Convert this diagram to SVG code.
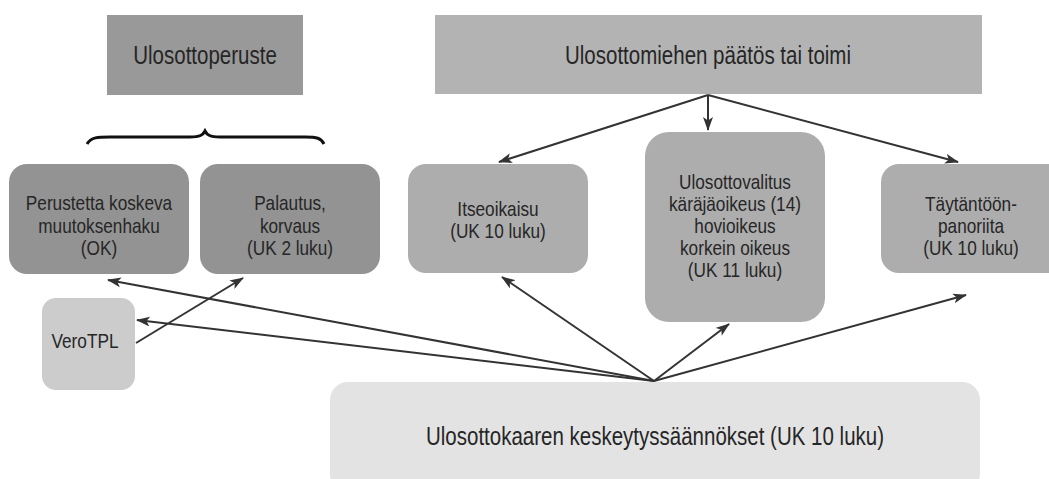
<svg xmlns="http://www.w3.org/2000/svg" width="1049" height="479" viewBox="0 0 1049 479">
  <defs>
    <style>
      text { font-family: "Liberation Sans", Arial, sans-serif; fill: #262626; text-anchor: middle; }
      .big { font-size: 25px; }
      .med { font-size: 21px; }
      .conn { stroke: #333; stroke-width: 2; fill: none; marker-end: url(#ah); }
    </style>
    <marker id="ah" viewBox="0 0 14 10" markerWidth="14" markerHeight="10" refX="13" refY="5" orient="auto" markerUnits="userSpaceOnUse">
      <path d="M0,0 L14,5 L0,10 L3.5,5 Z" fill="#333"/>
    </marker>
  </defs>
  <rect width="1049" height="479" fill="#ffffff"/>

  <g id="ulosottoperuste">
    <rect x="107" y="15" width="196" height="80" fill="#999999"/>
    <text class="big" transform="translate(205,64) scale(0.82,1)">Ulosottoperuste</text>
  </g>
  <g id="ulosottomiehen">
    <rect x="435" y="15" width="547" height="79" fill="#b3b3b3"/>
    <text class="big" transform="translate(708,64) scale(0.82,1)">Ulosottomiehen päätös tai toimi</text>
  </g>
  <g id="brace">
    <path d="M87,144 C91,137 98,137 110,137 L190,137 C200,137 203,135 205,131 C207,135 210,137 220,137 L305,137 C317,137 321,138 324,144" fill="none" stroke="#111" stroke-width="3"/>
  </g>
  <g id="perustetta">
    <rect x="9" y="164" width="180" height="110" rx="18" fill="#939393"/>
    <text class="med" transform="translate(99,210) scale(0.82,1)">Perustetta koskeva</text>
    <text class="med" transform="translate(99,233) scale(0.82,1)">muutoksenhaku</text>
    <text class="med" transform="translate(99,255) scale(0.82,1)">(OK)</text>
  </g>
  <g id="palautus">
    <rect x="200" y="164" width="180" height="110" rx="18" fill="#939393"/>
    <text class="med" transform="translate(290,210) scale(0.82,1)">Palautus,</text>
    <text class="med" transform="translate(290,233) scale(0.82,1)">korvaus</text>
    <text class="med" transform="translate(290,255) scale(0.82,1)">(UK 2 luku)</text>
  </g>
  <g id="verotpl">
    <rect x="42" y="298" width="93" height="92" rx="14" fill="#cccccc"/>
    <text class="med" transform="translate(85,348) scale(0.82,1)">VeroTPL</text>
  </g>
  <g id="itseoikaisu">
    <rect x="408" y="164" width="180" height="109" rx="18" fill="#adadad"/>
    <text class="med" transform="translate(498,216) scale(0.82,1)">Itseoikaisu</text>
    <text class="med" transform="translate(498,238) scale(0.82,1)">(UK 10 luku)</text>
  </g>
  <g id="ulosottovalitus">
    <rect x="645" y="132" width="180" height="190" rx="24" fill="#adadad"/>
    <text class="med" transform="translate(735,189) scale(0.82,1)">Ulosottovalitus</text>
    <text class="med" transform="translate(735,211) scale(0.82,1)">käräjäoikeus (14)</text>
    <text class="med" transform="translate(735,233) scale(0.82,1)">hovioikeus</text>
    <text class="med" transform="translate(735,255) scale(0.82,1)">korkein oikeus</text>
    <text class="med" transform="translate(735,277) scale(0.82,1)">(UK 11 luku)</text>
  </g>
  <g id="taytantoon">
    <rect x="881" y="164" width="184" height="109" rx="18" fill="#adadad"/>
    <text class="med" transform="translate(971,211) scale(0.82,1)">Täytäntöön-</text>
    <text class="med" transform="translate(971,233) scale(0.82,1)">panoriita</text>
    <text class="med" transform="translate(971,255) scale(0.82,1)">(UK 10 luku)</text>
  </g>
  <g id="keskeytys">
    <rect x="330" y="382" width="650" height="110" rx="18" fill="#e3e3e3"/>
    <text class="big" transform="translate(655,445) scale(0.82,1)">Ulosottokaaren keskeytyssäännökset (UK 10 luku)</text>
  </g>

  <g id="connectors">
    <line class="conn" x1="708" y1="95" x2="499" y2="162"/>
    <line class="conn" x1="708" y1="95" x2="708" y2="130"/>
    <line class="conn" x1="708" y1="95" x2="958" y2="162"/>
    <line class="conn" x1="654" y1="381" x2="502" y2="277"/>
    <line class="conn" x1="654" y1="381" x2="729" y2="324"/>
    <line class="conn" x1="654" y1="381" x2="966" y2="295"/>
    <line class="conn" x1="654" y1="381" x2="108" y2="280"/>
    <line class="conn" x1="654" y1="381" x2="137" y2="320"/>
    <line class="conn" x1="136" y1="343" x2="243" y2="278"/>
  </g>
</svg>
